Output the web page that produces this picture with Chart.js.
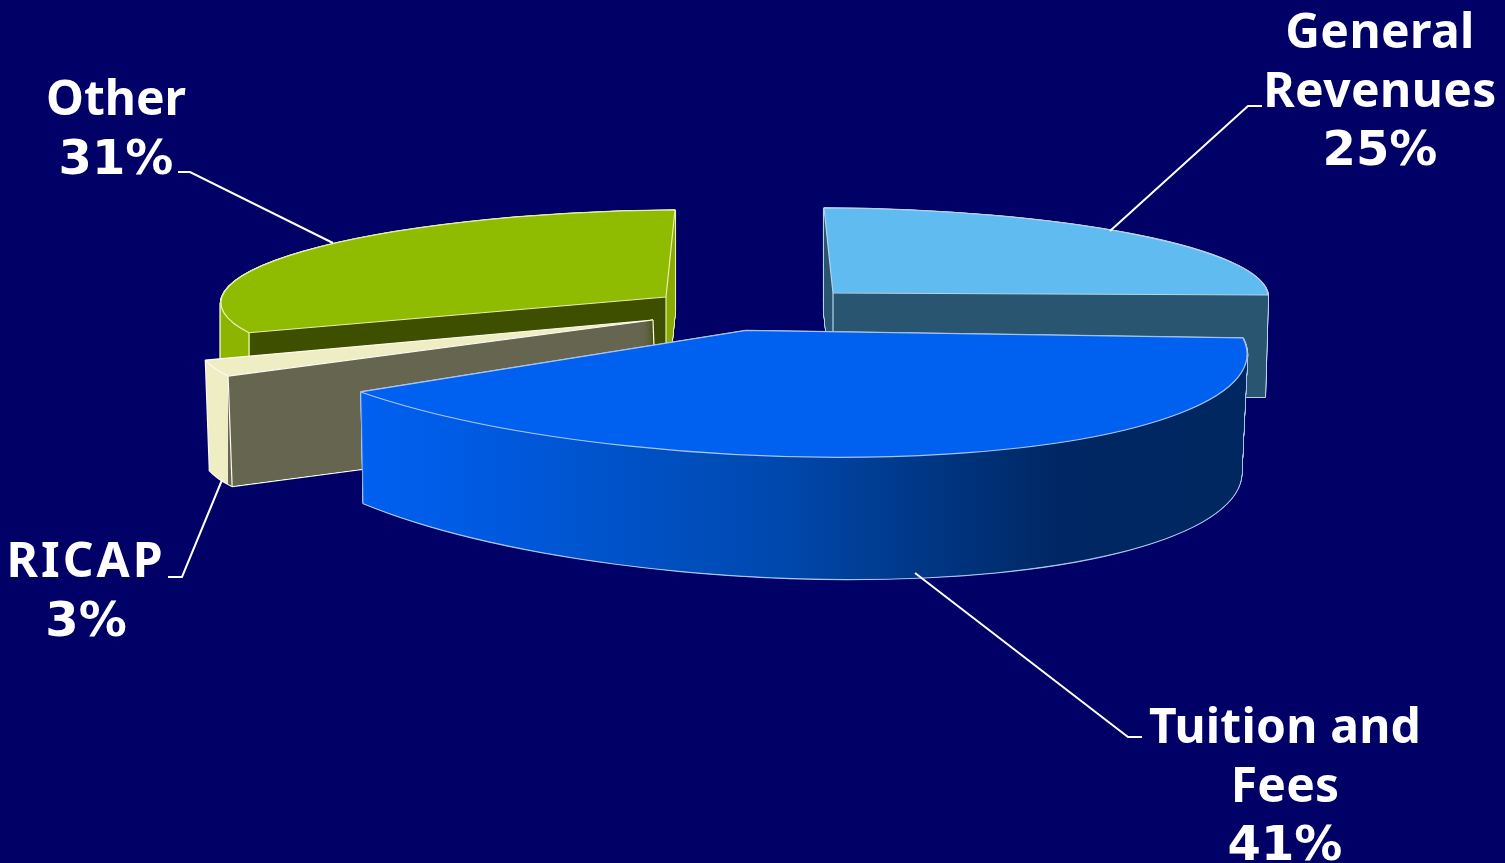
<!DOCTYPE html>
<html lang="en">
  <head>
    <meta charset="UTF-8" />
    <title>Revenue sources</title>
    <script src="https://cdn.jsdelivr.net/npm/chart.js"></script>
    <style>
      body {
        margin: 0;
        background: #000066;
        overflow: hidden;
      }
      canvas {
        display: block;
      }
    </style>
  </head>
  <body>
    <canvas id="revenuePie" width="1505" height="863"></canvas>

    <script>
      const categories = ["General Revenues", "Tuition and Fees", "RICAP", "Other"];
      const shares = [25, 41, 3, 31];
      const labelLines = [["General", "Revenues"], ["Tuition and", "Fees"], ["RICAP"], ["Other"]];

      const topColors = ["#5fbbf0", "#0060f0", "#eeedc4", "#8fbc00"];
      const edgeColors = ["#b4d4e8", "#a8c4ee", "#fbfbf0", "#e6f0b0"];
      // side wall colours by screen x, repeated x = hard edge between two faces
      const wallStops = [
        [[800, "#2a5570"], [1300, "#2a5570"]],
        [[360, "#0060f0"], [450, "#005ce6"], [620, "#0052c8"], [780, "#0048ae"], [950, "#00347f"], [1060, "#002763"], [1245, "#00275f"]],
        [[200, "#eeedc4"], [228, "#eeedc4"], [228, "#666650"], [660, "#666650"]],
        [[215, "#8db500"], [250, "#8db500"], [250, "#3f4f00"], [666, "#3f4f00"], [666, "#8aaa00"], [690, "#8aaa00"]],
      ];

      // where each slice sits: centre and the east / south radius vectors, top and bottom face
      const sliceViews = [
        { top: [833, 293, 435, 2, 9, 85], bottom: [833, 395, 432, 2, 9, 85] },
        { top: [746, 330.5, 497, 7.5, 64, 126.5], bottom: [754, 446.4, 486, 16.6, 36, 131.6] },
        { top: [653, 320, 445.5, -4.5, -91, 97.5], bottom: [657, 430, 445.5, -4.5, -91, 97.5] },
        { top: [666, 297, 445, -4, -9, 87], bottom: [666, 397, 445, -4, -9, 87] },
      ];
      const drawOrder = [0, 3, 2, 1]; // back to front
      // upright edges: 0 centre, 1 start of slice, 2 end of slice
      const uprightEdges = [[0], [], [0, 1, 2], [0, 1]];
      // the RICAP wedge is too thin for the outline pass, only its bottom gets a line
      const bottomOutlineOnly = [false, false, true, false];

      const labelSpots = [
        { x: 1380, y: [48, 107, 165], track: 0.4 },
        { x: 1285, y: [743, 802, 860], track: 0.2 },
        { x: 86, y: [577, 636], track: 3 },
        { x: 116, y: [115, 174], track: 0 },
      ];
      const leaders = [
        [[1262, 106], [1248, 106], [1110, 231]],
        [[1142, 737], [1128, 737], [915, 573]],
        [[168, 577], [182, 577], [222, 480]],
        [[178, 172], [190, 172], [333, 243]],
      ];

      function matrixFor(arc, view) {
        const R = arc.outerRadius;
        const a = view[2] / R, b = view[3] / R, c = view[4] / R, d = view[5] / R;
        return {
          a, b, c, d,
          e: view[0] - a * arc.x - c * arc.y,
          f: view[1] - b * arc.x - d * arc.y,
        };
      }

      function mixView(v1, v2, t) {
        return v1.map((n, i) => n + (v2[i] - n) * t);
      }

      // gradient in arc space which comes out with vertical bands on screen
      function wallGradient(ctx, m, stops) {
        const x0 = stops[0][0];
        const x1 = stops[stops.length - 1][0];
        const k = m.a * m.a + m.c * m.c;
        const g = ctx.createLinearGradient(
          ((x0 - m.e) * m.a) / k, ((x0 - m.e) * m.c) / k,
          ((x1 - m.e) * m.a) / k, ((x1 - m.e) * m.c) / k
        );
        stops.forEach((s) => g.addColorStop((s[0] - x0) / (x1 - x0), s[1]));
        return g;
      }

      function drawFace(ctx, arc, m, fill, edge, edgeWidth) {
        const saved = arc.options;
        arc.options = Object.assign({}, saved, {
          backgroundColor: fill,
          borderColor: edge || fill,
          borderWidth: edge ? edgeWidth : 0,
        });
        ctx.setTransform(m.a, m.b, m.c, m.d, m.e, m.f);
        // keep the outline an even width, the face itself is squashed
        ctx.stroke = function () {
          const w = ctx.lineWidth;
          ctx.save();
          ctx.setTransform(1, 0, 0, 1, 0, 0);
          ctx.lineWidth = w;
          CanvasRenderingContext2D.prototype.stroke.call(ctx);
          ctx.restore();
        };
        arc.draw(ctx);
        delete ctx.stroke;
        ctx.setTransform(1, 0, 0, 1, 0, 0);
        arc.options = saved;
      }

      function project(m, x, y) {
        return [m.a * x + m.c * y + m.e, m.b * x + m.d * y + m.f];
      }

      const pie3d = {
        id: "pie3d",
        beforeDatasetsDraw(chart) {
          const ctx = chart.ctx;
          const arcs = chart.getDatasetMeta(0).data;
          drawOrder.forEach((i) => {
            const arc = arcs[i];
            const view = sliceViews[i];
            const steps = 300;
            // first pass leaves the light outline round the whole body, second fills it
            for (let pass = 0; pass < 2; pass++) {
              for (let s = steps; s > 0; s--) {
                const m = matrixFor(arc, mixView(view.top, view.bottom, s / steps));
                const fill = wallGradient(ctx, m, wallStops[i]);
                const outlined = pass === 0 && (!bottomOutlineOnly[i] || s === steps);
                drawFace(ctx, arc, m, fill, outlined ? edgeColors[i] : null, 2.2);
              }
            }
            const topM = matrixFor(arc, view.top);
            const botM = matrixFor(arc, view.bottom);
            const R = arc.outerRadius;
            const corners = [[arc.x, arc.y]];
            [arc.startAngle, arc.endAngle].forEach((ang) => {
              corners.push([arc.x + Math.cos(ang) * R, arc.y + Math.sin(ang) * R]);
            });
            ctx.strokeStyle = edgeColors[i];
            ctx.lineWidth = 1.2;
            uprightEdges[i].forEach((n) => {
              const p1 = project(topM, corners[n][0], corners[n][1]);
              const p2 = project(botM, corners[n][0], corners[n][1]);
              ctx.beginPath();
              ctx.moveTo(p1[0], p1[1]);
              ctx.lineTo(p2[0], p2[1]);
              ctx.stroke();
            });
            drawFace(ctx, arc, topM, topColors[i], edgeColors[i], 1.2);
          });
          return false;
        },
        afterDraw(chart) {
          const ctx = chart.ctx;
          ctx.save();
          ctx.strokeStyle = "#ffffff";
          ctx.lineWidth = 2;
          leaders.forEach((pts) => {
            ctx.beginPath();
            pts.forEach((p, n) => (n ? ctx.lineTo(p[0], p[1]) : ctx.moveTo(p[0], p[1])));
            ctx.stroke();
          });
          ctx.fillStyle = "#ffffff";
          ctx.textAlign = "center";
          ctx.textBaseline = "alphabetic";
          labelLines.forEach((lines, i) => {
            const spot = labelSpots[i];
            ctx.font = "bold 48px 'Noto Sans'";
            ctx.letterSpacing = spot.track + "px";
            lines.forEach((line, n) => ctx.fillText(line, spot.x, spot.y[n]));
            // the percentages are wider than the words in the original
            ctx.font = "bold 48px 'DejaVu Sans'";
            ctx.letterSpacing = "0px";
            ctx.fillText(shares[i] + "%", spot.x, spot.y[lines.length]);
          });
          ctx.restore();
        },
      };

      new Chart(document.getElementById("revenuePie"), {
        type: "pie",
        data: {
          labels: categories,
          datasets: [{ data: shares, backgroundColor: topColors, borderWidth: 0 }],
        },
        options: {
          responsive: false,
          animation: false,
          events: [],
          layout: { padding: 0 },
          plugins: { legend: { display: false }, tooltip: { enabled: false } },
        },
        plugins: [pie3d],
      });
    </script>
  </body>
</html>
